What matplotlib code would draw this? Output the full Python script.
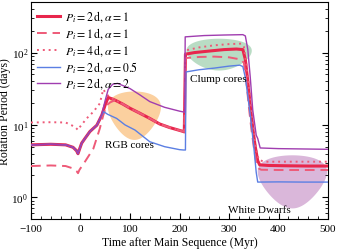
import numpy as np
import matplotlib
matplotlib.use("Agg")
import matplotlib.pyplot as plt
from matplotlib.ticker import MultipleLocator, LogLocator, NullFormatter

plt.rcParams['font.family'] = ['Liberation Serif', 'DejaVu Serif']
plt.rcParams['mathtext.fontset'] = 'stix'

# ---- data ----
t_red = [-100, -60, -30, -15, -8, -5, -2, 2.4, 9, 19, 33, 43, 50, 56, 70, 85, 100, 120, 140, 160, 180, 200, 208, 209.7,
         212, 230, 260, 290, 315, 328, 333, 338, 343, 348, 353, 358, 362, 380, 420, 460, 500]
p_red = [5.3, 5.4, 5.3, 4.9, 4.4, 4.0, 4.6, 5.6, 6.5, 8.1, 9.9, 13.6, 19, 24, 22, 19.5, 17, 14.5, 12.3, 10.3, 9.2, 8.4, 8.1, 8.0,
         95, 100, 105, 110, 112, 110, 80, 40, 18, 9, 5, 3.2, 2.8, 2.75, 2.72, 2.7, 2.7]

t_dash = [-100, -60, -30, -15, -8, -5, -2, 9, 26, 39, 46, 53, 60, 70, 85, 100, 120, 140, 160, 180, 200, 208, 209.7,
          212, 240, 270, 300, 325, 330, 335, 340, 345, 350, 355, 360, 365, 400, 450, 500]
p_dash = [2.7, 2.75, 2.7, 2.5, 2.3, 2.15, 2.4, 3.1, 4.7, 8.9, 13.6, 18.8, 20.5, 22, 19.5, 17, 14.5, 12.3, 10.3, 9.2, 8.4, 8.1, 8.0,
          84, 87, 88, 86, 80, 72, 40, 18, 9, 5, 3.0, 2.5, 2.4, 2.38, 2.38, 2.38]

t_dot = [-100, -60, -30, -18, -10, -5, -1, 12.5, 26, 39, 46, 52, 58, 70, 85, 100, 120, 140, 160, 180, 200, 208, 209.7,
         212, 240, 270, 300, 325, 330, 335, 340, 345, 350, 355, 360, 368, 375, 420, 460, 500]
p_dot = [10.8, 10.9, 10.8, 9.9, 9.2, 8.5, 9.4, 12.3, 15.2, 19.8, 31, 27, 24.5, 22, 19.5, 17, 14.5, 12.3, 10.3, 9.2, 8.4, 8.1, 8.0,
         107, 118, 126, 131, 133, 120, 70, 35, 17, 8.5, 4.5, 3.3, 3.15, 3.1, 3.1, 3.1, 3.1]

t_blue = [-100, -60, -30, -15, -8, -5, -2, 2.4, 9, 19, 33, 43, 47, 55, 73, 90, 110, 140, 170, 200, 208, 212,
          213, 240, 270, 300, 322, 328, 333, 338, 344, 350, 355, 358, 400, 450, 500]
p_blue = [5.3, 5.4, 5.3, 4.9, 4.4, 4.0, 4.6, 5.6, 6.5, 8.1, 9.9, 13.6, 15.2, 14, 12.3, 10, 8.5, 5.85, 5.0, 4.55, 4.5, 4.5,
          54, 58, 61, 65, 67, 64, 45, 25, 12, 5, 2.2, 1.62, 1.63, 1.62, 1.62]

t_purp = [-100, -60, -30, -15, -8, -5, -2, 2.4, 9, 19, 33, 43, 50, 56, 65, 75, 90, 100, 120, 140, 170, 200, 208, 210.5,
          211.5, 250, 290, 328, 333, 338, 343, 348, 355, 358, 363, 400, 450, 500]
p_purp = [5.3, 5.4, 5.3, 4.9, 4.4, 4.0, 4.6, 5.6, 6.5, 8.1, 9.9, 14, 22, 31, 36.5, 37.5, 34, 31.8, 26, 21, 17.5, 15.5, 15.1, 15,
          165, 172, 175, 177, 170, 110, 45, 16, 7.2, 6.5, 4.8, 4.7, 4.65, 4.6]

labels = [r"$P_i = 2\,\mathrm{d}, \alpha = 1$", r"$P_i = 1\,\mathrm{d}, \alpha = 1$",
          r"$P_i = 4\,\mathrm{d}, \alpha = 1$", r"$P_i = 2\,\mathrm{d}, \alpha = 0.5$",
          r"$P_i = 2\,\mathrm{d}, \alpha = 2$"]

# regions (center time, center period, half-width time, half-height period) in linear data units
region_names = ["RGB cores", "Clump cores", "White Dwarfs"]
region_t = [109, 280, 428]
region_p = [17.6, 106, 2.25]
region_dt = [53.5, 66, 70]
region_dp = [11.4, 49.5, 1.55]
region_colors = ["#fbd09f", "#b9dcc4", "#dab7da"]
region_label_t = [99, 278, 361]
region_label_p = [5.4, 44, 0.68]

fig = plt.figure(figsize=(3.39, 2.53), dpi=100)
ax = fig.add_axes([0.0914, 0.1304, 0.8762, 0.8576])

th = np.linspace(0, 2 * np.pi, 300)
for i in range(3):
    xs = region_t[i] + region_dt[i] * np.cos(th)
    ys = region_p[i] + region_dp[i] * np.sin(th)
    ax.fill(xs, ys, color=region_colors[i], zorder=0, lw=0)
    ax.text(region_label_t[i], region_label_p[i], region_names[i], ha='center', va='center', fontsize=8, zorder=5)

red = "#e8264c"
pink = "#ee5a78"
ax.plot(t_red, p_red, color=red, lw=2.2, label=labels[0], zorder=3)
ax.plot(t_dash, p_dash, color=pink, lw=1.4, ls=(0, (5, 3)), label=labels[1], zorder=3)
ax.plot(t_dot, p_dot, color=pink, lw=1.4, ls=(0, (1, 2)), label=labels[2], zorder=3)
ax.plot(t_blue, p_blue, color="#5b7fe3", lw=1.0, label=labels[3], zorder=3)
ax.plot(t_purp, p_purp, color="#a03db0", lw=1.0, label=labels[4], zorder=3)

ax.set_yscale('log')
ax.set_xlim(-100, 500)
ax.set_ylim(0.5, 500)
ax.xaxis.set_major_locator(MultipleLocator(100))
ax.xaxis.set_minor_locator(MultipleLocator(20))
ax.yaxis.set_major_locator(LogLocator(base=10, numticks=10))
ax.yaxis.set_minor_locator(LogLocator(base=10, subs=np.arange(2, 10), numticks=10))
ax.yaxis.set_minor_formatter(NullFormatter())
ax.tick_params(which='both', direction='in', right=True, labelsize=8)
ax.tick_params(which='major', length=4, width=0.8)
ax.tick_params(which='minor', length=2, width=0.6)
ax.tick_params(axis='y', which='major', pad=2)

ax.set_xlabel("Time after Main Sequence (Myr)", fontsize=8.5, labelpad=2)
ax.set_ylabel("Rotation Period (days)", fontsize=8.5)
ax.yaxis.set_label_coords(-0.068, 0.5)

leg = ax.legend(loc='upper left', frameon=False, fontsize=8.5, handlelength=1.9, handletextpad=0.45,
                borderaxespad=0.25, labelspacing=0.1, borderpad=0.3)

fig.savefig("out.png", dpi=100)
